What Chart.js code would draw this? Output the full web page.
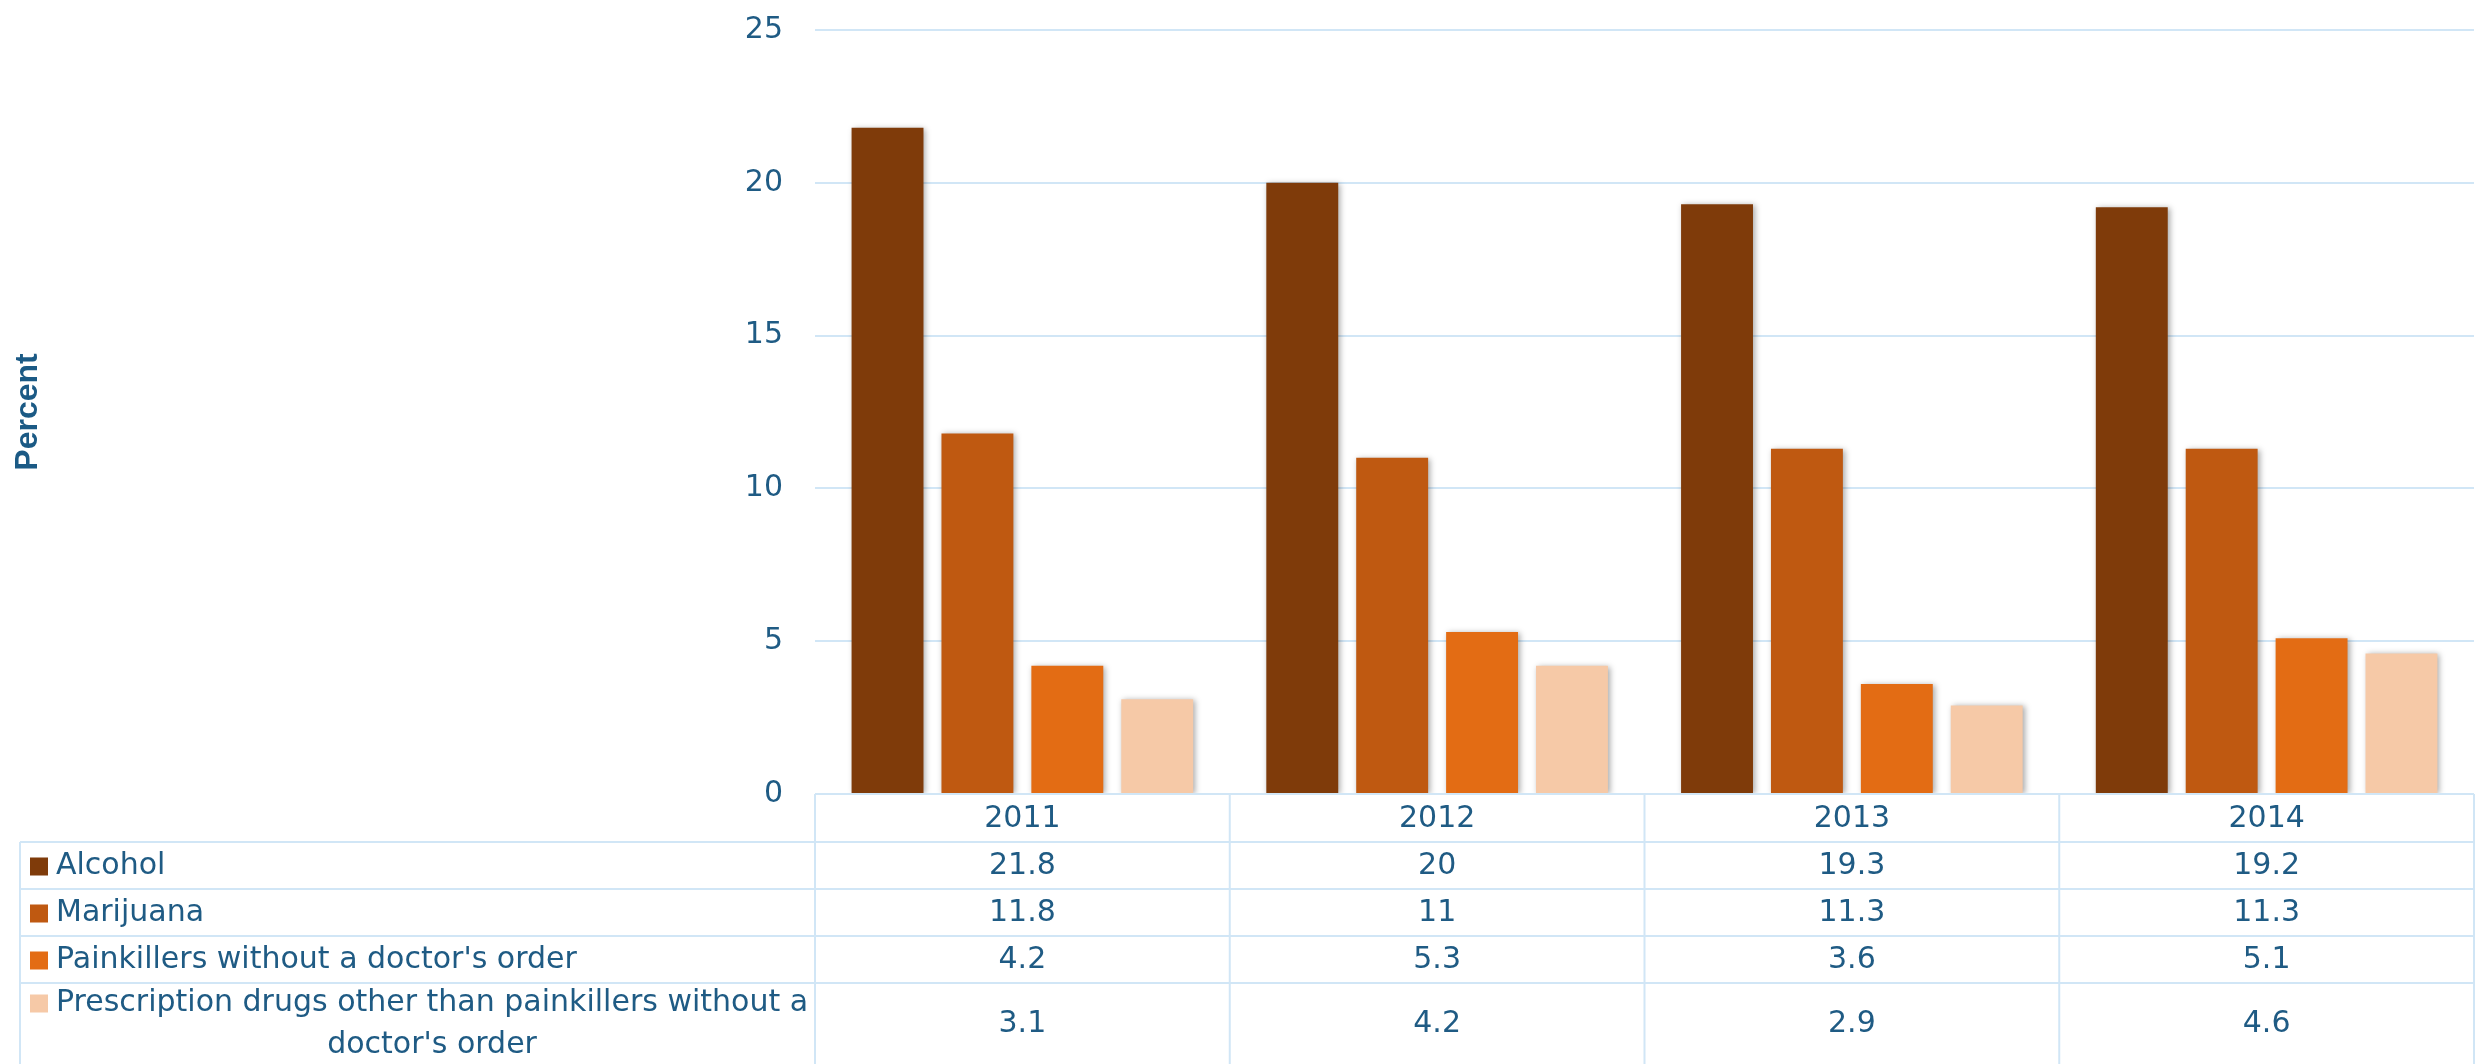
<!DOCTYPE html>
<html>
<head>
<meta charset="utf-8">
<script src="https://cdn.jsdelivr.net/npm/chart.js@4.4.1/dist/chart.umd.min.js"></script>
<style>
    html, body { margin: 0; padding: 0; background: #fff; }
    #wrap { width: 2484px; height: 1064px; }
</style>
</head>
<body>
<div id="wrap"><canvas id="drugChart" width="2484" height="1064"></canvas></div>
<script>
const years = ['2011', '2012', '2013', '2014'];
const seriesNames = [
    'Alcohol',
    'Marijuana',
    "Painkillers without a doctor's order",
    ['Prescription drugs other than painkillers without a', "doctor's order"]
];
const alcohol = [21.8, 20, 19.3, 19.2];
const marijuana = [11.8, 11, 11.3, 11.3];
const painkillers = [4.2, 5.3, 3.6, 5.1];
const otherRx = [3.1, 4.2, 2.9, 4.6];
const seriesColors = ['#7f3b0a', '#bf5911', '#e36c14', '#f6c9a7'];

const textColor = '#1f5b84';
const lineColor = '#d1e6f6';
const tableFont = '30px "DejaVu Sans"';

// bar shadow, like the office chart
const barShadow = {
    id: 'barShadow',
    beforeDatasetsDraw(chart) {
        const ctx = chart.ctx;
        ctx.save();
        ctx.shadowColor = 'rgba(0, 0, 0, 0.35)';
        ctx.shadowBlur = 6;
        ctx.shadowOffsetX = 2;
        ctx.shadowOffsetY = 1;
    },
    afterDatasetsDraw(chart) {
        chart.ctx.restore();
    }
};

// data table under the plot
const dataTable = {
    id: 'dataTable',
    afterDraw(chart) {
        const ctx = chart.ctx;
        const area = chart.chartArea;
        const xScale = chart.scales.x;
        const colW = (area.right - area.left) / years.length;
        const tableLeft = 20;
        const bottom = chart.height;
        const headerH = 48;
        const rowH = [47, 47, 47, 81];

        const rowTops = [];
        let y = area.bottom + headerH;
        rowH.forEach(h => { rowTops.push(y); y += h; });

        ctx.save();
        ctx.strokeStyle = lineColor;
        ctx.lineWidth = 2;

        // horizontal lines
        ctx.beginPath();
        ctx.moveTo(area.left, area.bottom);
        ctx.lineTo(area.right, area.bottom);
        rowTops.forEach(t => {
            ctx.moveTo(tableLeft, t);
            ctx.lineTo(area.right, t);
        });
        // vertical lines
        for (let i = 0; i <= years.length; i++) {
            const x = area.left + i * colW;
            ctx.moveTo(x, area.bottom);
            ctx.lineTo(x, bottom);
        }
        ctx.moveTo(tableLeft, rowTops[0]);
        ctx.lineTo(tableLeft, bottom);
        ctx.stroke();

        ctx.font = tableFont;
        ctx.fillStyle = textColor;
        ctx.textBaseline = 'middle';
        ctx.textAlign = 'center';

        // header
        years.forEach((yr, i) => {
            ctx.fillText(yr, xScale.getPixelForValue(i), area.bottom + headerH / 2 + 1);
        });

        // rows
        chart.data.datasets.forEach((ds, r) => {
            const top = rowTops[r];
            const h = rowH[r];
            ds.data.forEach((v, i) => {
                ctx.fillText(String(v), xScale.getPixelForValue(i), top + h / 2 + 1);
            });

            const name = seriesNames[r];
            const lines = Array.isArray(name) ? name : [name];
            const lineH = 42;
            const firstY = top + (h - lines.length * lineH) / 2 + lineH / 2 + 1;

            ctx.fillStyle = seriesColors[r];
            ctx.fillRect(30, firstY - 9, 18, 18);
            ctx.fillStyle = textColor;

            const w0 = ctx.measureText(lines[0]).width;
            ctx.textAlign = 'left';
            ctx.fillText(lines[0], 56, firstY);
            ctx.textAlign = 'center';
            for (let k = 1; k < lines.length; k++) {
                ctx.fillText(lines[k], 56 + w0 / 2, firstY + k * lineH);
            }
        });

        ctx.restore();
    }
};

const datasets = [alcohol, marijuana, painkillers, otherRx].map((vals, i) => ({
    label: Array.isArray(seriesNames[i]) ? seriesNames[i].join(' ') : seriesNames[i],
    data: vals,
    backgroundColor: seriesColors[i],
    borderWidth: 0,
    categoryPercentage: 0.867,
    barPercentage: 0.8
}));

new Chart(document.getElementById('drugChart'), {
    type: 'bar',
    data: {
        labels: years,
        datasets: datasets
    },
    options: {
        responsive: false,
        animation: false,
        devicePixelRatio: 1,
        layout: {
            padding: { top: 30, right: 10, bottom: 270, left: 0 }
        },
        plugins: {
            legend: { display: false },
            tooltip: { enabled: false }
        },
        scales: {
            x: {
                display: false
            },
            y: {
                min: 0,
                max: 25,
                ticks: {
                    stepSize: 5,
                    padding: 3,
                    color: textColor,
                    font: { family: 'DejaVu Sans', size: 30 }
                },
                grid: {
                    color: lineColor,
                    lineWidth: 2,
                    drawTicks: true,
                    tickLength: 29,
                    tickColor: 'rgba(0,0,0,0)'
                },
                border: { display: false },
                title: {
                    display: true,
                    text: 'Percent',
                    color: '#1b5a85',
                    font: { family: 'Liberation Sans', size: 32, weight: 'bold' },
                    padding: { top: 9, bottom: 4 }
                },
                afterFit(scale) {
                    scale.width = 815;
                }
            }
        }
    },
    plugins: [barShadow, dataTable]
});
</script>
</body>
</html>
